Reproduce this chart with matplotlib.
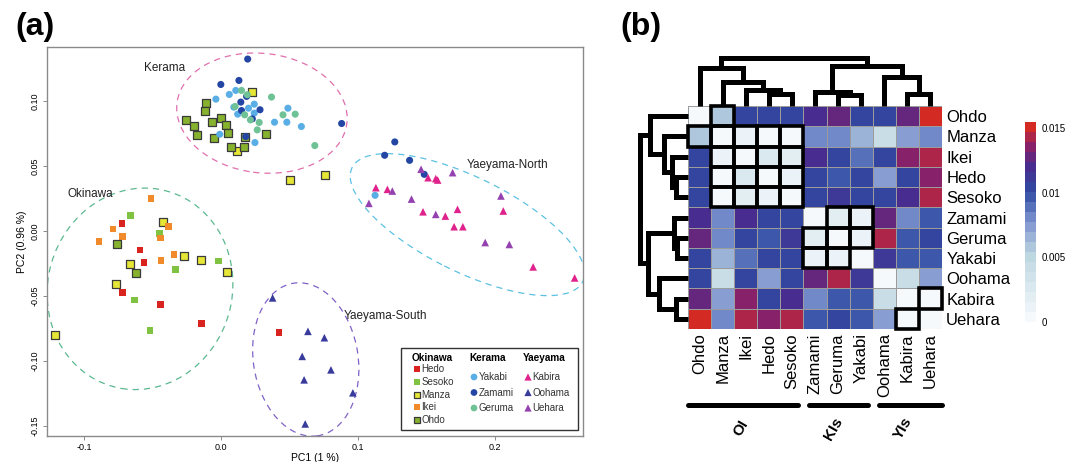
import numpy as np
import matplotlib.pyplot as plt
from matplotlib.patches import Ellipse, Rectangle
from matplotlib.colors import LinearSegmentedColormap

plt.rcParams['font.family'] = ['Liberation Sans', 'DejaVu Sans']

# ---------------- (a) PCA scores ----------------
hedo_pc1 = [-0.0723, -0.0591, -0.056, -0.0717, -0.044, -0.014, 0.0426]
hedo_pc2 = [0.0057, -0.0147, -0.0242, -0.0472, -0.0564, -0.0711, -0.0781]
sesoko_pc1 = [-0.0661, -0.0448, -0.0017, -0.0331, -0.063, -0.0518]
sesoko_pc2 = [0.0121, -0.0018, -0.0232, -0.0294, -0.0531, -0.0768]
manza_pc1 = [0.0224, 0.0118, 0.0504, 0.0759, -0.0423, -0.0664, -0.0762, -0.0272, -0.0148, 0.0042, -0.1207]
manza_pc2 = [0.107, 0.0621, 0.0392, 0.043, 0.007, -0.0255, -0.0407, -0.0193, -0.0222, -0.0312, -0.0799]
ikei_pc1 = [-0.051, -0.0787, -0.0717, -0.0891, -0.0381, -0.044, -0.0342, -0.0437]
ikei_pc2 = [0.0253, 0.0015, -0.0041, -0.008, 0.0036, -0.0052, -0.018, -0.0227]
ohdo_pc1 = [-0.0106, -0.0112, -0.0255, -0.0199, -0.0174, -0.0064, 0.0, 0.0036,
            0.005, -0.0053, 0.0076, 0.0168, 0.0174, 0.0328, -0.0759, -0.0622]
ohdo_pc2 = [0.0987, 0.093, 0.0858, 0.0807, 0.0742, 0.0838, 0.0876, 0.082,
            0.076, 0.0716, 0.0652, 0.0652, 0.0724, 0.0747, -0.0103, -0.032]
yakabi_pc1 = [-0.0036, 0.0062, 0.0109, 0.0095, 0.0123, 0.0202, 0.0244, 0.0244,
              0.0392, 0.0482, 0.049, 0.0588, -0.0008, 0.0249, 0.1126]
yakabi_pc2 = [0.1018, 0.1054, 0.1085, 0.0956, 0.0902, 0.0948, 0.0979, 0.091,
              0.084, 0.084, 0.0948, 0.0807, 0.0747, 0.0683, 0.0276]
zamami_pc1 = [0.0196, 0.0, 0.0132, 0.0146, 0.0188, 0.0286, 0.023, 0.0151,
              0.0182, 0.0882, 0.127, 0.1196, 0.1378, 0.1485]
zamami_pc2 = [0.1327, 0.1131, 0.1162, 0.0995, 0.1039, 0.0936, 0.0866, 0.093,
              0.0729, 0.083, 0.0688, 0.0585, 0.0546, 0.0438]
geruma_pc1 = [0.0151, 0.0193, 0.0104, 0.0174, 0.0216, 0.028, 0.0266, 0.0454, 0.0543, 0.037, 0.0686]
geruma_pc2 = [0.1085, 0.1052, 0.0961, 0.0897, 0.0858, 0.0838, 0.0781, 0.0897, 0.0902, 0.1034, 0.066]
kabira_pc1 = [0.1132, 0.1216, 0.1513, 0.1569, 0.1583, 0.1476, 0.1639, 0.1728,
              0.1703, 0.1767, 0.2062, 0.228, 0.2583]
kabira_pc2 = [0.0335, 0.0322, 0.0412, 0.0405, 0.0394, 0.0149, 0.0116, 0.0168,
              0.0034, 0.0034, 0.0155, -0.0276, -0.0361]
oohama_pc1 = [0.0378, 0.0636, 0.0756, 0.0594, 0.0804, 0.0608, 0.0964, 0.0616]
oohama_pc2 = [-0.0515, -0.0773, -0.0822, -0.0966, -0.107, -0.1147, -0.1247, -0.1487]
uehara_pc1 = [0.1252, 0.1081, 0.1392, 0.1462, 0.1569, 0.1692, 0.2045, 0.193, 0.2106]
uehara_pc2 = [0.0309, 0.0214, 0.0247, 0.0477, 0.0129, 0.0451, 0.0271, -0.0088, -0.0103]

regions = ['Okinawa', 'Kerama', 'Yaeyama']
okinawa_pops = ['Hedo', 'Sesoko', 'Manza', 'Ikei', 'Ohdo']
kerama_pops = ['Yakabi', 'Zamami', 'Geruma']
yaeyama_pops = ['Kabira', 'Oohama', 'Uehara']

scores = {
    'Hedo': (hedo_pc1, hedo_pc2), 'Sesoko': (sesoko_pc1, sesoko_pc2),
    'Manza': (manza_pc1, manza_pc2), 'Ikei': (ikei_pc1, ikei_pc2),
    'Ohdo': (ohdo_pc1, ohdo_pc2), 'Yakabi': (yakabi_pc1, yakabi_pc2),
    'Zamami': (zamami_pc1, zamami_pc2), 'Geruma': (geruma_pc1, geruma_pc2),
    'Kabira': (kabira_pc1, kabira_pc2), 'Oohama': (oohama_pc1, oohama_pc2),
    'Uehara': (uehara_pc1, uehara_pc2),
}

# style per population: colour, marker, size, edge colour
style = {
    'Hedo': ('#d8231f', 's', 22, 'none'),
    'Sesoko': ('#80c242', 's', 22, 'none'),
    'Manza': ('#e6e636', 's', 27, '#3a3a3a'),
    'Ikei': ('#f08a2a', 's', 22, 'none'),
    'Ohdo': ('#86b22e', 's', 27, '#3a3a3a'),
    'Yakabi': ('#5aaee6', 'o', 26, 'none'),
    'Zamami': ('#2345a3', 'o', 26, 'none'),
    'Geruma': ('#6fc295', 'o', 26, 'none'),
    'Kabira': ('#e0228c', '^', 30, 'none'),
    'Oohama': ('#383b9c', '^', 30, 'none'),
    'Uehara': ('#9442b0', '^', 30, 'none'),
}

# cluster ellipses: label, centre, width, height, angle, colour
clusters = ['Kerama', 'Okinawa', 'Yaeyama-North', 'Yaeyama-South']
ell_center = [(0.030, 0.091), (-0.059, -0.0445), (0.180, 0.005), (0.062, -0.099)]
ell_size = [(0.125, 0.092), (0.135, 0.156), (0.19, 0.072), (0.0765, 0.119)]
ell_angle = [-8, -10, -28, 8]
ell_color = ['#e070ae', '#5cb88f', '#5cc1e2', '#8062c6']
label_pos = [(-0.041, 0.126), (-0.095, 0.0286), (0.209, 0.0513), (0.1204, -0.0657)]

# ---------------- (b) pairwise Fst ----------------
pops_b = ['Ohdo', 'Manza', 'Ikei', 'Hedo', 'Sesoko', 'Zamami', 'Geruma',
          'Yakabi', 'Oohama', 'Kabira', 'Uehara']
fst = np.array([
    [0, .0060, .0102, .0102, .0102, .0122, .0128, .0105, .0102, .0128, .0152],
    [.0060, 0, .0012, .0002, .0002, .0078, .0082, .0063, .0042, .0070, .0080],
    [.0102, .0012, 0, .0030, .0018, .0122, .0102, .0090, .0102, .0132, .0140],
    [.0102, .0002, .0030, 0, .0008, .0102, .0097, .0104, .0075, .0104, .0132],
    [.0102, .0002, .0018, .0008, 0, .0103, .0110, .0103, .0102, .0124, .0140],
    [.0122, .0078, .0122, .0102, .0103, 0, .0022, .0015, .0125, .0082, .0095],
    [.0128, .0082, .0102, .0097, .0110, .0022, 0, .0015, .0143, .0095, .0103],
    [.0105, .0063, .0090, .0104, .0103, .0015, .0015, 0, .0110, .0095, .0098],
    [.0102, .0042, .0102, .0075, .0102, .0125, .0143, .0110, 0, .0045, .0072],
    [.0128, .0070, .0132, .0104, .0124, .0082, .0095, .0095, .0045, 0, .0002],
    [.0152, .0080, .0140, .0132, .0140, .0095, .0103, .0098, .0072, .0002, 0],
])
# pairs that are not significantly different (black boxes)
nonsig = [(0, 1), (1, 0), (1, 1), (1, 2), (1, 3), (1, 4),
          (2, 1), (2, 2), (2, 3), (2, 4), (3, 1), (3, 2), (3, 3), (3, 4),
          (4, 1), (4, 2), (4, 3), (4, 4),
          (5, 6), (5, 7), (6, 5), (6, 6), (6, 7), (7, 5), (7, 6),
          (9, 10), (10, 9)]
# clustering merges: (node a, node b, height)
merges = [(3, 4, 11.7), (2, 11, 15.7), (1, 12, 24.0), (0, 13, 38.4),
          (6, 7, 10.7), (5, 15, 13.7), (9, 10, 11.7), (8, 17, 29.0),
          (16, 18, 40.0), (14, 19, 48.4)]
groups = ['OI', 'KIs', 'YIs']
group_sizes = [5, 3, 3]

W, H = 1079, 462
fig = plt.figure(figsize=(W / 100, H / 100), dpi=100)


def fig_rect(x0, y0, x1, y1):
    return [x0 / W, 1 - y1 / H, (x1 - x0) / W, (y1 - y0) / H]


# ===== panel (a) =====
ax = fig.add_axes(fig_rect(47, 47, 583, 436))
for pop in okinawa_pops + kerama_pops + yaeyama_pops:
    c, m, s, ec = style[pop]
    x, y = scores[pop]
    ax.scatter(x, y, s=s, c=c, marker=m, edgecolors=ec,
               linewidths=0.9 if ec != 'none' else 0, zorder=3)

for i, name in enumerate(clusters):
    e = Ellipse(ell_center[i], ell_size[i][0], ell_size[i][1], angle=ell_angle[i],
                fill=False, ec=ell_color[i], lw=0.9, ls=(0, (5, 4)), zorder=2)
    ax.add_patch(e)
    ax.text(label_pos[i][0], label_pos[i][1], name, fontsize=8.5,
            ha='center', va='center', color='#222222')

ax.set_xlim(-0.1269, 0.2644)
ax.set_ylim(-0.158, 0.142)
ax.set_xticks([-0.1, 0.0, 0.1, 0.2])
ax.set_xticklabels(['-0.1', '0.0', '0.1', '0.2'])
ax.set_yticks([-0.15, -0.10, -0.05, 0.0, 0.05, 0.10])
ax.set_yticklabels(['-0.15', '-0.10', '-0.05', '0.00', '0.05', '0.10'],
                   rotation=90, va='center')
ax.tick_params(labelsize=6.5, length=3, width=0.6, color='#777777', pad=2)
ax.set_xlabel('PC1 (1 %)', fontsize=7.5, labelpad=1)
ax.set_ylabel('PC2 (0.96 %)', fontsize=7.5, labelpad=3)
for sp in ax.spines.values():
    sp.set_color('#8a8a8a')
    sp.set_linewidth(1.0)


# legend drawn by hand (three columns with headers)
def fx(px):
    return (px - 47) / 536


def fy(py):
    return 1 - (py - 47) / 389


ax.add_patch(Rectangle((fx(401), fy(430)), fx(578) - fx(401), fy(348) - fy(430),
                       transform=ax.transAxes, fc='white', ec='#333333', lw=1.0, zorder=5))
col_x = [412, 469, 523]
col_y0 = [369, 377, 377]
col_dy = [12.75, 15.5, 15.5]
for j, (reg, pops) in enumerate(zip(regions, [okinawa_pops, kerama_pops, yaeyama_pops])):
    ax.text(fx(col_x[j]), fy(358), reg, transform=ax.transAxes, fontsize=7.2,
            fontweight='bold', ha='left', va='center', zorder=6)
    for k, pop in enumerate(pops):
        c, m, s, ec = style[pop]
        yy = fy(col_y0[j] + k * col_dy[j])
        ax.scatter([fx(col_x[j] + 5)], [yy], s=s * 0.9, c=c, marker=m, edgecolors=ec,
                   linewidths=0.9 if ec != 'none' else 0,
                   transform=ax.transAxes, clip_on=False, zorder=6)
        ax.text(fx(col_x[j] + 9.5), yy, pop, transform=ax.transAxes, fontsize=7,
                ha='left', va='center', color='#333333', zorder=6)
ax.set_xlim(-0.1269, 0.2644)
ax.set_ylim(-0.158, 0.142)

fig.text(15 / W, 1 - 27 / H, '(a)', fontsize=23, fontweight='bold', va='center', ha='left')
fig.text(620 / W, 1 - 27 / H, '(b)', fontsize=23, fontweight='bold', va='center', ha='left')

# ===== panel (b) =====
n = len(pops_b)
cmap = LinearSegmentedColormap.from_list(
    'fst', [(0.0, '#f5f9fc'), (0.33, '#bcd6e0'), (0.5, '#7e94d0'), (0.66, '#2f4ba3'),
            (0.8, '#4a2a8e'), (0.9, '#8a2068'), (1.0, '#d42a24')], N=20)
hx = fig.add_axes(fig_rect(688, 106, 942, 329))
mesh = hx.pcolormesh(np.arange(n + 1), np.arange(n + 1), fst, cmap=cmap,
                     vmin=0, vmax=0.0155, edgecolors='#9c9c9c', linewidth=0.6)
hx.set_xlim(0, n)
hx.set_ylim(n, 0)
for r, c in nonsig:
    hx.add_patch(Rectangle((c, r), 1, 1, fill=False, ec='black', lw=2.6,
                           joinstyle='miter', zorder=4, clip_on=False))
hx.set_xticks(np.arange(n) + 0.5)
hx.set_xticklabels(pops_b, rotation=90, fontsize=12)
hx.set_yticks(np.arange(n) + 0.5)
hx.set_yticklabels(pops_b, fontsize=12)
hx.yaxis.tick_right()
hx.tick_params(length=0, pad=3)
for sp in hx.spines.values():
    sp.set_visible(False)

# group bars under the columns
start = 0
for g, size in zip(groups, group_sizes):
    end = start + size
    x0 = start + (0.25 if start > 0 else 0.02)
    x1 = end - (0.22 if end < n else 0.0)
    hx.plot([x0, x1], [14.75, 14.75], color='black', lw=3.6,
            solid_capstyle='round', clip_on=False)
    hx.text((start + end) / 2 - 0.2, 15.9, g, rotation=60, fontsize=11,
            fontweight='bold', ha='center', va='center', clip_on=False)
    start = end


def draw_dendro(dax, orient):
    pos = {i: i + 0.5 for i in range(n)}
    hgt = {i: 0.0 for i in range(n)}
    for k, (a, b, h) in enumerate(merges):
        xs = [pos[a], pos[a], pos[b], pos[b]]
        ys = [hgt[a], h, h, hgt[b]]
        if orient == 'top':
            dax.plot(xs, ys, color='black', lw=3.6, solid_joinstyle='miter',
                     solid_capstyle='butt', clip_on=False)
        else:
            dax.plot(ys, xs, color='black', lw=3.6, solid_joinstyle='miter',
                     solid_capstyle='butt', clip_on=False)
        pos[n + k] = (pos[a] + pos[b]) / 2
        hgt[n + k] = h
    dax.axis('off')


tx = fig.add_axes(fig_rect(688, 56, 942, 106))
draw_dendro(tx, 'top')
tx.set_xlim(0, n)
tx.set_ylim(0, 50)

lx = fig.add_axes(fig_rect(638, 106, 688, 329))
draw_dendro(lx, 'left')
lx.set_xlim(50, 0)
lx.set_ylim(n, 0)

cax = fig.add_axes(fig_rect(1025, 122, 1036, 322))
cb = fig.colorbar(mesh, cax=cax, ticks=[0, 0.005, 0.01, 0.015])
cb.ax.set_yticklabels(['0', '0.005', '0.01', '0.015'])
cb.outline.set_visible(False)
cb.ax.tick_params(length=0, labelsize=7, pad=4)

fig.savefig('out.png', dpi=100)
